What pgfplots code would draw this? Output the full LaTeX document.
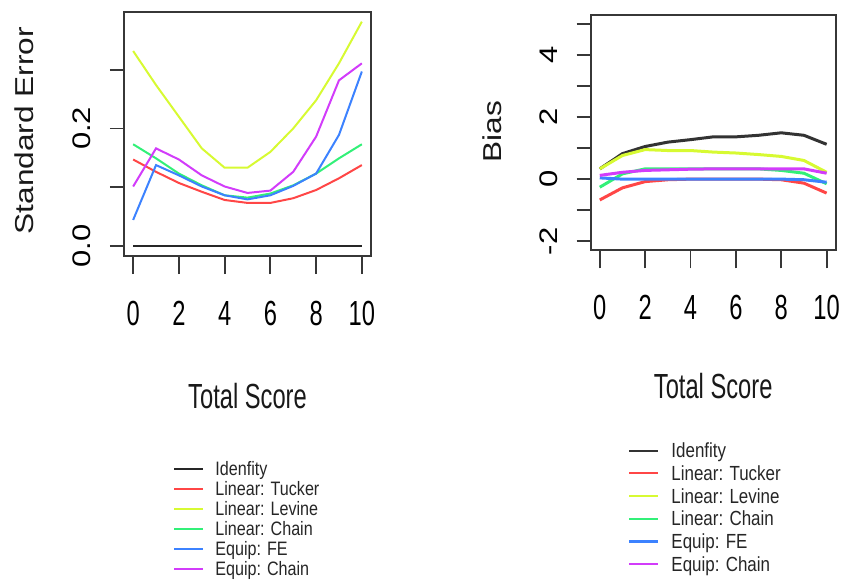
\documentclass[border=0pt]{standalone}
\usepackage{fontspec}
\usepackage{pgfplots}
\pgfplotsset{compat=1.18}
\setmainfont{Liberation Sans}
\newfontfamily\hfont[FakeStretch=0.68]{Liberation Sans}
\newfontfamily\vfont[FakeStretch=1.22]{Liberation Sans}
\newfontfamily\lfont[FakeStretch=0.83]{Liberation Sans}
\definecolor{cTucker}{RGB}{255,70,70}
\definecolor{cLevine}{RGB}{215,250,50}
\definecolor{cChain}{RGB}{50,240,120}
\definecolor{cFE}{RGB}{60,130,255}
\definecolor{cEq}{RGB}{210,60,250}
\definecolor{cAx}{RGB}{55,55,55}
\pgfplotsset{
  rstyle/.style={
    scale only axis,
    anchor=south west,
    xmin=-0.4, xmax=10.4,
    xtick={0,2,4,6,8,10},
    xticklabels={0,2,4,6,8,10},
    tick pos=left,
    tick align=outside,
    axis line style={cAx, line width=1.8bp},
    tick style={cAx, line width=1.8bp},
    xtick style={/pgfplots/major tick length=18.3bp},
    ytick style={/pgfplots/major tick length=14bp},
    xticklabel style={font={\hfont\fontsize{35}{40}\selectfont}, inner sep=0pt, anchor=north, text=black},
    yticklabel style={font={\vfont\fontsize{25.5}{30}\selectfont}, inner sep=0pt, rotate=90, anchor=south, text=black},
    xlabel style={font={\hfont\fontsize{35}{40}\selectfont}, inner sep=0pt, anchor=base, text=black!90},
    ylabel style={font={\vfont\fontsize{26}{30}\selectfont}, inner sep=0pt, anchor=base, text=black!90},
    legend cell align=left,
    legend image code/.code={\draw[##1, line width=2.2bp] (0bp,0bp) -- (28.7bp,0bp);},
    clip=true,
  },
}
\begin{document}
\begin{tikzpicture}
\useasboundingbox (0,0) rectangle (841bp,581bp);
% ---------------- Left panel: Standard Error
\begin{axis}[rstyle,
  at={(124bp,325.3bp)}, width=247bp, height=243.4bp,
  ymin=-0.017, ymax=0.398,
  ytick={0,0.1,0.2,0.3},
  yticklabels={0.0,,0.2,},
  xticklabel shift=41.2bp,
  yticklabel shift=28.5bp,
  xlabel={Total Score},
  ylabel={Standard Error},
  xlabel style={at={(axis description cs:0.5,-0.626)}},
  ylabel style={at={(axis description cs:-0.367,0.514)}},
  legend style={draw=none, fill=none, at={(axis description cs:0.198,-0.847)}, anchor=north west,
    inner sep=0pt, outer sep=0pt, row sep=6bp, column sep=11.6bp,
    font={\lfont\fontsize{19.5}{20}\selectfont},
    nodes={inner sep=0pt, text height=14bp, text depth=0bp, text=black!85}},
  every axis plot/.append style={line width=2bp},
]
\addplot[black!85] coordinates {(0,0)(1,0)(2,0)(3,0)(4,0)(5,0)(6,0)(7,0)(8,0)(9,0)(10,0)};
\addlegendentry{Idenfity}
\addplot[cTucker] coordinates {(0,0.147)(1,0.126)(2,0.107)(3,0.092)(4,0.078)(5,0.073)(6,0.073)(7,0.081)(8,0.095)(9,0.115)(10,0.1375)};
\addlegendentry{Linear: Tucker}
\addplot[cLevine] coordinates {(0,0.332)(1,0.274)(2,0.220)(3,0.166)(4,0.133)(5,0.133)(6,0.160)(7,0.200)(8,0.248)(9,0.311)(10,0.382)};
\addlegendentry{Linear: Levine}
\addplot[cChain] coordinates {(0,0.173)(1,0.149)(2,0.123)(3,0.103)(4,0.086)(5,0.082)(6,0.089)(7,0.103)(8,0.123)(9,0.149)(10,0.173)};
\addlegendentry{Linear: Chain}
\addplot[cFE] coordinates {(0,0.044)(1,0.1375)(2,0.120)(3,0.101)(4,0.086)(5,0.079)(6,0.086)(7,0.102)(8,0.123)(9,0.189)(10,0.297)};
\addlegendentry{Equip: FE}
\addplot[cEq] coordinates {(0,0.101)(1,0.166)(2,0.147)(3,0.120)(4,0.101)(5,0.090)(6,0.094)(7,0.126)(8,0.186)(9,0.282)(10,0.311)};
\addlegendentry{Equip: Chain}
\end{axis}
% ---------------- Right panel: Bias
\begin{axis}[rstyle,
  at={(590.7bp,331bp)}, width=245bp, height=235bp,
  ymin=-2.28, ymax=5.28,
  ytick={-2,-1,0,1,2,3,4,5},
  yticklabels={-2,,0,,2,,4,},
  xticklabel shift=40.7bp,
  yticklabel shift=29bp,
  xlabel={Total Score},
  ylabel={Bias},
  xlabel style={at={(axis description cs:0.5,-0.630)}},
  ylabel style={at={(axis description cs:-0.363,0.503)}},
  legend style={draw=none, fill=none, at={(axis description cs:0.152,-0.824)}, anchor=north west,
    inner sep=0pt, outer sep=0pt, row sep=8.7bp, column sep=12.6bp,
    font={\lfont\fontsize{20.5}{21}\selectfont},
    nodes={inner sep=0pt, text height=14bp, text depth=0bp, text=black!85}},
  every axis plot/.append style={line width=3bp},
]
\addplot[black!80] coordinates {(0,0.33)(1,0.82)(2,1.05)(3,1.19)(4,1.27)(5,1.36)(6,1.36)(7,1.41)(8,1.49)(9,1.41)(10,1.12)};
\addlegendentry{Idenfity}
\addplot[cTucker] coordinates {(0,-0.67)(1,-0.28)(2,-0.08)(3,-0.02)(4,0)(5,0)(6,0)(7,0)(8,-0.02)(9,-0.13)(10,-0.45)};
\addlegendentry{Linear: Tucker}
\addplot[cLevine] coordinates {(0,0.33)(1,0.76)(2,0.95)(3,0.92)(4,0.92)(5,0.87)(6,0.84)(7,0.79)(8,0.73)(9,0.60)(10,0.22)};
\addlegendentry{Linear: Levine}
\addplot[cChain] coordinates {(0,-0.26)(1,0.17)(2,0.33)(3,0.33)(4,0.33)(5,0.33)(6,0.33)(7,0.33)(8,0.28)(9,0.19)(10,-0.15)};
\addlegendentry{Linear: Chain}
\addplot[cFE] coordinates {(0,0.04)(1,0)(2,0)(3,0)(4,0)(5,0)(6,0)(7,0)(8,0)(9,-0.02)(10,-0.1)};
\addlegendentry{Equip: FE}
\addplot[cEq] coordinates {(0,0.12)(1,0.22)(2,0.28)(3,0.30)(4,0.32)(5,0.33)(6,0.33)(7,0.33)(8,0.33)(9,0.33)(10,0.19)};
\addlegendentry{Equip: Chain}
\end{axis}
\end{tikzpicture}
\end{document}
